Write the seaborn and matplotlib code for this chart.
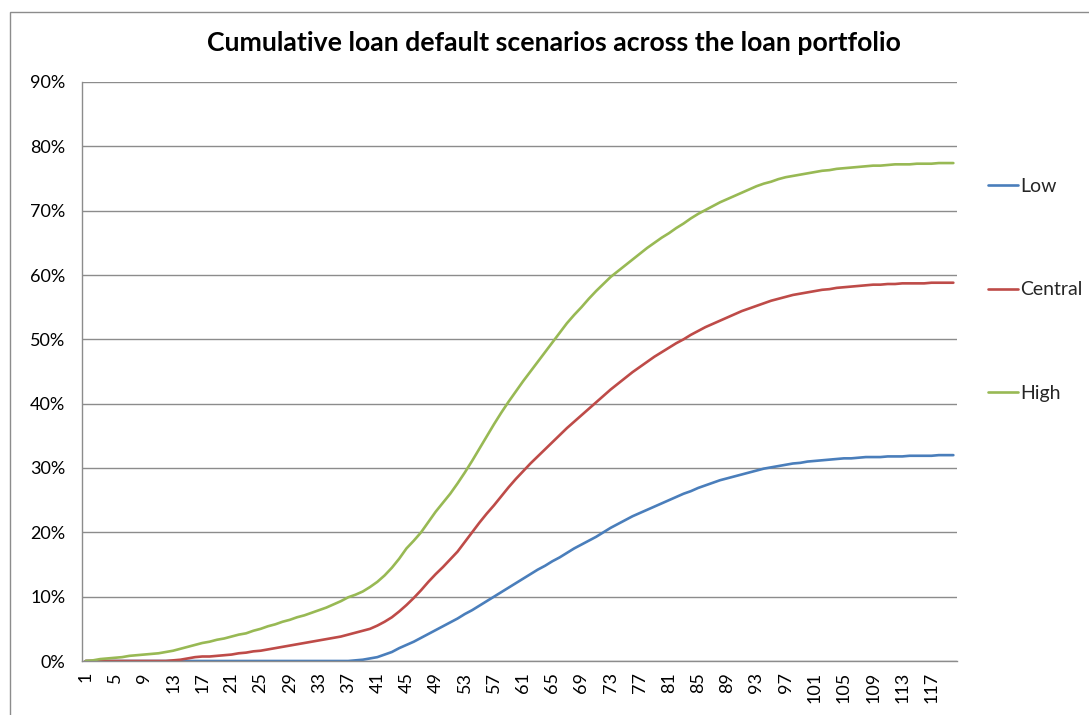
import numpy as np
import pandas as pd
import matplotlib
matplotlib.use("Agg")
import matplotlib.pyplot as plt
from matplotlib.patches import Rectangle
from matplotlib.ticker import FixedLocator, PercentFormatter
import seaborn as sns

# Months 1..120 of the portfolio horizon
months = list(range(1, 121))

# Cumulative default rate (%) per month for each scenario
low = [0.0] * 37 + [
    0.1, 0.2, 0.4, 0.6, 1.0, 1.4, 2.0, 2.5, 3.0, 3.6,
    4.2, 4.8, 5.4, 6.0, 6.6, 7.3, 7.9, 8.6, 9.3, 10.0,
    10.7, 11.4, 12.1, 12.8, 13.5, 14.2, 14.8, 15.5, 16.1, 16.8,
    17.5, 18.1, 18.7, 19.3, 20.0, 20.7, 21.3, 21.9, 22.5, 23.0,
    23.5, 24.0, 24.5, 25.0, 25.5, 26.0, 26.4, 26.9, 27.3, 27.7,
    28.1, 28.4, 28.7, 29.0, 29.3, 29.6, 29.9, 30.1, 30.3, 30.5,
    30.7, 30.8, 31.0, 31.1, 31.2, 31.3, 31.4, 31.5, 31.5, 31.6,
    31.7, 31.7, 31.7, 31.8, 31.8, 31.8, 31.9, 31.9, 31.9, 31.9,
    32.0, 32.0, 32.0,
]

central = [0.0] * 12 + [
    0.1, 0.2, 0.4, 0.6, 0.7, 0.7, 0.8, 0.9, 1.0, 1.2,
    1.3, 1.5, 1.6, 1.8, 2.0, 2.2, 2.4, 2.6, 2.8, 3.0,
    3.2, 3.4, 3.6, 3.8, 4.1, 4.4, 4.7, 5.0, 5.5, 6.1,
    6.8, 7.7, 8.7, 9.8, 11.0, 12.3, 13.5, 14.6, 15.8, 17.0,
    18.5, 20.0, 21.5, 22.9, 24.2, 25.6, 27.0, 28.3, 29.5, 30.7,
    31.8, 32.9, 34.0, 35.1, 36.2, 37.2, 38.2, 39.2, 40.2, 41.2,
    42.2, 43.1, 44.0, 44.9, 45.7, 46.5, 47.3, 48.0, 48.7, 49.4,
    50.0, 50.7, 51.3, 51.9, 52.4, 52.9, 53.4, 53.9, 54.4, 54.8,
    55.2, 55.6, 56.0, 56.3, 56.6, 56.9, 57.1, 57.3, 57.5, 57.7,
    57.8, 58.0, 58.1, 58.2, 58.3, 58.4, 58.5, 58.5, 58.6, 58.6,
    58.7, 58.7, 58.7, 58.7, 58.8, 58.8, 58.8, 58.8,
]

high = [
    0.0, 0.1, 0.3, 0.4, 0.5, 0.6, 0.8, 0.9, 1.0, 1.1,
    1.2, 1.4, 1.6, 1.9, 2.2, 2.5, 2.8, 3.0, 3.3, 3.5,
    3.8, 4.1, 4.3, 4.7, 5.0, 5.4, 5.7, 6.1, 6.4, 6.8,
    7.1, 7.5, 7.9, 8.3, 8.8, 9.3, 9.9, 10.3, 10.8, 11.5,
    12.3, 13.3, 14.5, 15.9, 17.5, 18.7, 20.0, 21.6, 23.2, 24.6,
    26.0, 27.6, 29.3, 31.1, 33.0, 34.9, 36.8, 38.6, 40.3, 41.9,
    43.5, 45.0, 46.5, 48.0, 49.5, 51.0, 52.5, 53.8, 55.0, 56.3,
    57.5, 58.6, 59.7, 60.6, 61.5, 62.4, 63.3, 64.2, 65.0, 65.8,
    66.5, 67.3, 68.0, 68.8, 69.5, 70.1, 70.7, 71.3, 71.8, 72.3,
    72.8, 73.3, 73.8, 74.2, 74.5, 74.9, 75.2, 75.4, 75.6, 75.8,
    76.0, 76.2, 76.3, 76.5, 76.6, 76.7, 76.8, 76.9, 77.0, 77.0,
    77.1, 77.2, 77.2, 77.2, 77.3, 77.3, 77.3, 77.4, 77.4, 77.4,
]

scenarios = ["Low", "Central", "High"]
colors = {"Low": "#4A7EBB", "Central": "#BE4B48", "High": "#98B954"}

df = pd.concat(
    [
        pd.DataFrame({"month": months, "rate": vals, "scenario": name})
        for name, vals in zip(scenarios, [low, central, high])
    ],
    ignore_index=True,
)

sns.set_style("white")
plt.rcParams["font.family"] = ["Lato", "DejaVu Sans"]

W, H = 1089, 715
fig = plt.figure(figsize=(W / 100, H / 100), dpi=100)
ax = fig.add_axes([82 / W, 1 - 661 / H, (957 - 82) / W, (661 - 82) / H])

sns.lineplot(
    data=df, x="month", y="rate", hue="scenario", hue_order=scenarios,
    palette=colors, linewidth=1.9, ax=ax, legend=True,
)

grid_c = "#8C8C8C"
ax.set_xlim(0.5, 120.5)
ax.set_ylim(0, 90)
ax.set_yticks(np.arange(0, 91, 10))
ax.yaxis.set_major_formatter(PercentFormatter(decimals=0))
ax.yaxis.grid(True, color=grid_c, linewidth=1.0)
ax.set_axisbelow(True)

label_months = months[::4]
ax.set_xticks(label_months)
ax.set_xticklabels([str(m) for m in label_months], rotation=90)
ax.xaxis.set_minor_locator(FixedLocator(np.arange(0.5, 121, 1.0)))
ax.tick_params(axis="x", which="major", length=0, pad=8, labelsize=13, colors="black")
ax.tick_params(axis="x", which="minor", length=5, width=0.8, color=grid_c, direction="out")
ax.tick_params(axis="y", which="major", length=6, width=1.0, color=grid_c, pad=6,
               labelsize=13, labelcolor="black")

for side in ["top", "right"]:
    ax.spines[side].set_visible(False)
for side in ["left", "bottom"]:
    ax.spines[side].set_color(grid_c)
    ax.spines[side].set_linewidth(1.0)

ax.set_xlabel("")
ax.set_ylabel("")

fig.text(554 / W, 1 - 43 / H,
         "Cumulative loan default scenarios across the loan portfolio",
         ha="center", va="center", fontsize=19.2, fontweight="bold", color="black")

handles, labels = ax.get_legend_handles_labels()
ax.legend_.remove()
leg = fig.legend(
    handles, labels, loc="upper left", bbox_to_anchor=(980 / W, 1 - 170 / H),
    frameon=False, fontsize=14, labelspacing=4.45, handlelength=1.55,
    handletextpad=0.1, borderaxespad=0,
)
for line in leg.get_lines():
    line.set_linewidth(1.9)

# Chart area frame
fig.add_artist(Rectangle((10 / W, -0.1), 1.2, 1 - 12 / H + 0.1,
                         transform=fig.transFigure, fill=False,
                         edgecolor="#8C8C8C", linewidth=1.0))

fig.savefig("out.png", dpi=100)
